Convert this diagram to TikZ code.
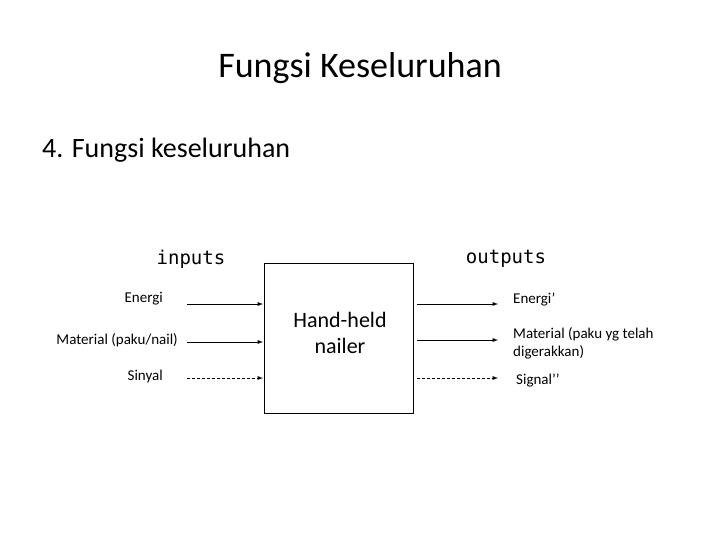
\documentclass[tikz,border=0pt]{standalone}
\usepackage{fontspec}
\setmainfont{Carlito}
\newfontfamily\monof{DejaVu Sans Mono}
\begin{document}
\begin{tikzpicture}[x=1pt,y=-1pt,
  lbl/.style={inner sep=0pt,font=\fontsize{15}{18}\selectfont},
  arr/.style={-latex,line width=0.9pt},
  darr/.style={arr,dash pattern=on 3pt off 2pt}]
\useasboundingbox (0,0) rectangle (720,540);
\node[inner sep=0pt,font=\fontsize{36}{40}\selectfont] (t) at (360,68) {Fungsi Keseluruhan};
\node[inner sep=0pt,anchor=west,font=\fontsize{28}{32}\selectfont] (s) at (42,150) {4. Fungsi keseluruhan};
\node[inner sep=0pt,font=\monof\fontsize{19}{22}\selectfont] (in) at (191,259) {inputs};
\node[inner sep=0pt,font=\monof\fontsize{19}{22}\selectfont] (out) at (506,259) {outputs};
\node[draw,line width=0.8pt,minimum width=149pt,minimum height=150pt,inner sep=0pt] (box) at (338.5,338) {};
\node[align=center,font=\fontsize{22}{26}\selectfont] (hn) at (340,333) {Hand-held\\nailer};
\node[lbl,anchor=east] (e) at (163,299) {Energi};
\node[lbl,anchor=east] (m) at (178,340) {Material (paku/nail)};
\node[lbl,anchor=east] (si) at (163,376) {Sinyal};
\coordinate (a1) at (187,304); \coordinate (b1) at (263,304);
\coordinate (a2) at (187,342); \coordinate (b2) at (263,342);
\coordinate (a3) at (187,378); \coordinate (b3) at (263,378);
\draw[arr] (a1) -- (b1);
\draw[arr] (a2) -- (b2);
\draw[darr] (a3) -- (b3);
\coordinate (c1) at (417,304); \coordinate (d1) at (498,304);
\coordinate (c2) at (417,340); \coordinate (d2) at (498,340);
\coordinate (c3) at (417,378); \coordinate (d3) at (498,378);
\draw[arr] (c1) -- (d1);
\draw[arr] (c2) -- (d2);
\draw[darr] (c3) -- (d3);
\node[lbl,anchor=west] (e2) at (513,299) {Energi’};
\node[lbl,anchor=north west,align=left] (m2) at (513,327) {Material (paku yg telah\\digerakkan)};
\node[lbl,anchor=west] (s2) at (516,380) {Signal’’};
\end{tikzpicture}
\end{document}
